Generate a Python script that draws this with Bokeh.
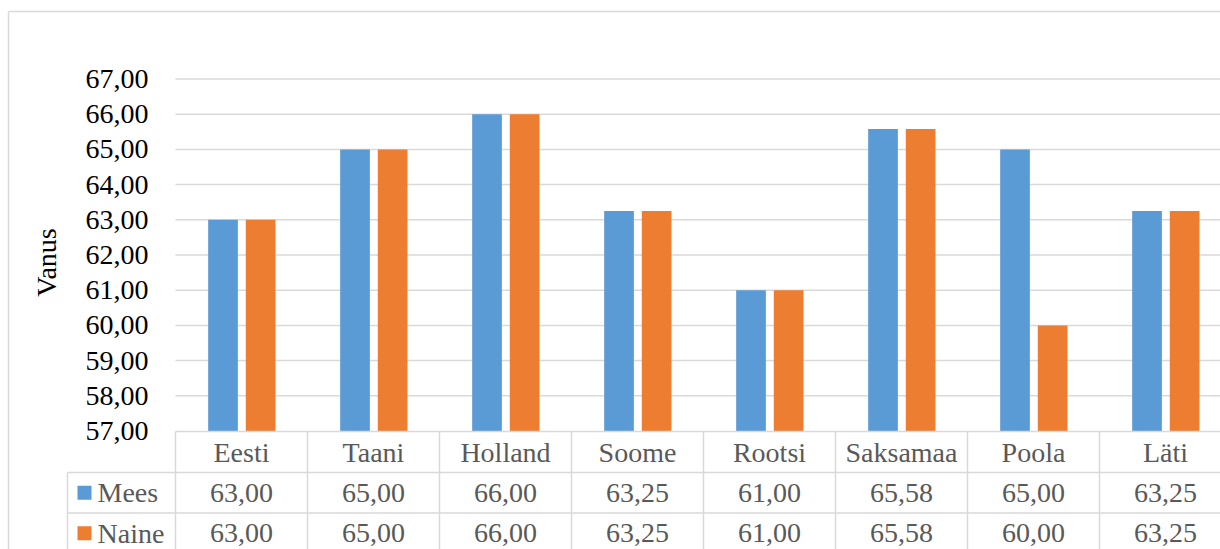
import math
from bokeh.plotting import figure
from bokeh.models import Range1d
from bokeh.core.properties import value
from bokeh.embed import file_html
from bokeh.resources import INLINE

# ---- data ----
categories = ["Eesti", "Taani", "Holland", "Soome", "Rootsi", "Saksamaa", "Poola", "Läti"]
mees = [63.00, 65.00, 66.00, 63.25, 61.00, 65.58, 65.00, 63.25]
naine = [63.00, 65.00, 66.00, 63.25, 61.00, 65.58, 60.00, 63.25]
series_names = ["Mees", "Naine"]
y_ticks = [57, 58, 59, 60, 61, 62, 63, 64, 65, 66, 67]
y_title = "Vanus"

def fmt(v):
    return f"{v:.2f}".replace(".", ",")

# ---- layout constants (pixels) ----
W, H = 1220, 549
PLOT_LEFT = 175
COL_W = 132
Y_BASE_PX = 430.5     # pixel of 57
PX_PER_UNIT = 35.2
FONT = value("'Liberation Serif', serif")
FS = "28px"
GRID_C = "#d9d9d9"
TXT_C = "#595959"
BLUE = "#5B9BD5"
ORANGE = "#ED7D31"

y0 = y_ticks[0]
y_bottom = y0 - (H - Y_BASE_PX) / PX_PER_UNIT
y_top = y0 + Y_BASE_PX / PX_PER_UNIT

p = figure(width=W, height=H, output_backend="svg", toolbar_location=None,
           x_range=Range1d(-PLOT_LEFT / COL_W, (W - PLOT_LEFT) / COL_W),
           y_range=Range1d(y_bottom, y_top),
           x_axis_location=None, y_axis_location=None, min_border=0)
p.extra_x_ranges = {"px": Range1d(0, W)}
p.extra_y_ranges = {"px": Range1d(H, 0)}
p.grid.visible = False
p.outline_line_color = None
p.background_fill_color = "white"
p.border_fill_color = "white"

# outer chart border
p.segment(x0=[8, 8], y0=[11, 11], x1=[W + 20, 8], y1=[11, H + 20],
          x_range_name="px", y_range_name="px", line_color=GRID_C, line_width=1.5)

# horizontal gridlines (data y)
gl = y_ticks[1:]
p.segment(x0=[PLOT_LEFT] * len(gl), x1=[W + 20] * len(gl), y0=gl, y1=gl,
          x_range_name="px", line_color=GRID_C, line_width=1.5)

# tick labels
p.text(x=[148] * len(y_ticks), y=y_ticks, text=[fmt(t) for t in y_ticks],
       x_range_name="px", text_font=FONT, text_font_size=FS, text_color="#000000",
       text_align="right", text_baseline="middle")

# y axis title
p.text(x=[46], y=[262], text=[y_title], x_range_name="px", y_range_name="px",
       angle=math.pi / 2, text_font=FONT, text_font_size=FS, text_color="#000000",
       text_align="center", text_baseline="middle")

# bars
idx = list(range(len(categories)))
bw = 0.225
p.vbar(x=[i + 0.36 for i in idx], top=mees, bottom=y0, width=bw,
       fill_color=BLUE, line_color=None)
p.vbar(x=[i + 0.645 for i in idx], top=naine, bottom=y0, width=bw,
       fill_color=ORANGE, line_color=None)

# data table lines
ROW_TOP, ROW1, ROW2, ROW3 = 431, 472, 512.5, 553
LEG_LEFT = 67
hx0 = [PLOT_LEFT, LEG_LEFT, LEG_LEFT]
hy = [ROW_TOP, ROW1, ROW2]
p.segment(x0=hx0, x1=[W + 20] * 3, y0=hy, y1=hy,
          x_range_name="px", y_range_name="px", line_color=GRID_C, line_width=1.5)
vx = [PLOT_LEFT + COL_W * k for k in range(len(categories) + 1)]
p.segment(x0=vx, x1=vx, y0=[ROW_TOP] * len(vx), y1=[H + 20] * len(vx),
          x_range_name="px", y_range_name="px", line_color=GRID_C, line_width=1.5)
p.segment(x0=[LEG_LEFT], x1=[LEG_LEFT], y0=[ROW1], y1=[H + 20],
          x_range_name="px", y_range_name="px", line_color=GRID_C, line_width=1.5)

# table texts
centers = [i + 0.5 for i in idx]
p.text(x=centers, y=[(ROW_TOP + ROW1) / 2] * len(idx), text=categories, y_range_name="px",
       text_font=FONT, text_font_size=FS, text_color=TXT_C,
       text_align="center", text_baseline="middle")
p.text(x=centers, y=[(ROW1 + ROW2) / 2] * len(idx), text=[fmt(v) for v in mees], y_range_name="px",
       text_font=FONT, text_font_size=FS, text_color=TXT_C,
       text_align="center", text_baseline="middle")
p.text(x=centers, y=[(ROW2 + ROW3) / 2] * len(idx), text=[fmt(v) for v in naine], y_range_name="px",
       text_font=FONT, text_font_size=FS, text_color=TXT_C,
       text_align="center", text_baseline="middle")

# legend keys in table
ky = [(ROW1 + ROW2) / 2, (ROW2 + ROW3) / 2]
p.rect(x=[84, 84], y=ky, width=14, height=14, x_range_name="px", y_range_name="px",
       fill_color=[BLUE, ORANGE], line_color=None)
p.text(x=[97, 97], y=ky, text=series_names, x_range_name="px", y_range_name="px",
       text_font=FONT, text_font_size=FS, text_color=TXT_C,
       text_align="left", text_baseline="middle")

open("out.html", "w").write(file_html(p, INLINE))
